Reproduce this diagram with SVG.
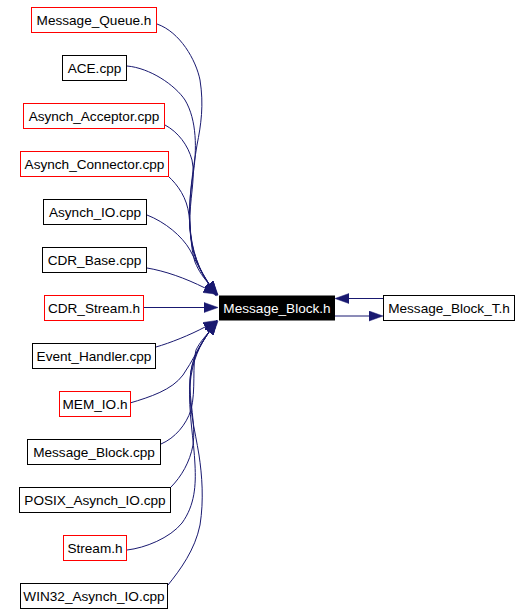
<svg xmlns="http://www.w3.org/2000/svg" width="531" height="614" viewBox="0 0 531 614">
<style>
.box{fill:#ffffff;stroke:#000000;stroke-width:1}
.red{stroke:#ff0000}
.main{fill:#000000;stroke:#000000}
text{font-family:"Liberation Sans",Arial,sans-serif;font-size:13.6px;text-anchor:middle;fill:#000000}
.wt{fill:#ffffff}
.edge{fill:none;stroke:#191970;stroke-width:1;marker-end:url(#arr)}
</style>
<defs>
<marker id="arr" markerUnits="userSpaceOnUse" markerWidth="15" markerHeight="11" refX="0" refY="5" orient="auto" viewBox="0 0 15 10">
<path d="M0,0 L14,5 L0,10 z" fill="#191970" stroke="#191970" stroke-width="0.5"/>
</marker>
</defs>
<rect width="531" height="614" fill="#ffffff"/>
<g id="edges">
<path class="edge" d="M157,24 C180,32 196,60 200,80 C204,105 201,125 197,145 C193,170 188,200 190,228 C191,250 200,272 209,284"/>
<path class="edge" d="M127,66 C150,68 175,85 185,100 C197,120 197,150 193,175 C189,200 188,225 192,245 C195,262 202,274 209,284"/>
<path class="edge" d="M165,125 C178,132 188,145 192,160 C196,178 189,200 190,225 C191,250 200,272 209,284"/>
<path class="edge" d="M168,176 C178,185 187,198 189,215 C191,235 191,250 195,262 C199,272 204,278 209,284"/>
<path class="edge" d="M147,215 C165,222 182,236 190,250 C196,262 203,274 209,284"/>
<path class="edge" d="M147,268 C165,271 185,278 205,288"/>
<path class="edge" d="M143,307.5 L204,307.5"/>
<path class="edge" d="M156,347 C170,343 190,335 205,327"/>
<path class="edge" d="M130,403 C150,397 172,390 183,375 C192,362 200,345 209,332"/>
<path class="edge" d="M161,444 C175,438 186,425 191,410 C196,390 192,365 196,350 C200,342 204,338 209,332"/>
<path class="edge" d="M171,487 C181,477 190,462 193,445 C196,425 189,400 190,380 C191,360 200,345 209,332"/>
<path class="edge" d="M127,550 C145,548 170,538 182,523 C195,505 196,485 195,465 C194,440 188,410 190,385 C192,360 200,345 209,332"/>
<path class="edge" d="M168,585 C180,570 195,550 200,525 C204,500 202,475 199,455 C195,430 188,405 190,380 C191,358 200,345 209,332"/>
<path class="edge" d="M383,298.5 L349,298.5"/>
<path class="edge" d="M335,316 L369,316"/>
</g>
<g id="n_message_queue_h"><rect class="box red" x="31.5" y="7.5" width="125" height="25"/><text x="94" y="24.5">Message_Queue.h</text></g>
<g id="n_ace_cpp"><rect class="box" x="62.5" y="55.5" width="64" height="25"/><text x="94.5" y="72.5">ACE.cpp</text></g>
<g id="n_asynch_acceptor_cpp"><rect class="box red" x="23.5" y="103.5" width="141" height="25"/><text x="94" y="120.5">Asynch_Acceptor.cpp</text></g>
<g id="n_asynch_connector_cpp"><rect class="box red" x="20.5" y="151.5" width="148" height="25"/><text x="94.5" y="168.5">Asynch_Connector.cpp</text></g>
<g id="n_asynch_io_cpp"><rect class="box" x="43.5" y="199.5" width="103" height="25"/><text x="95" y="216.5">Asynch_IO.cpp</text></g>
<g id="n_cdr_base_cpp"><rect class="box" x="42.5" y="247.5" width="104" height="25"/><text x="94.5" y="264.5">CDR_Base.cpp</text></g>
<g id="n_cdr_stream_h"><rect class="box red" x="44.5" y="295.5" width="99" height="25"/><text x="94" y="312.5">CDR_Stream.h</text></g>
<g id="n_event_handler_cpp"><rect class="box" x="32.5" y="343.5" width="123" height="25"/><text x="94" y="360.5">Event_Handler.cpp</text></g>
<g id="n_mem_io_h"><rect class="box red" x="59.5" y="391.5" width="71" height="25"/><text x="95" y="408.5">MEM_IO.h</text></g>
<g id="n_message_block_cpp"><rect class="box" x="27.5" y="439.5" width="133" height="25"/><text x="94" y="456.5">Message_Block.cpp</text></g>
<g id="n_posix_asynch_io_cpp"><rect class="box" x="19.5" y="487.5" width="151" height="25"/><text x="95" y="504.5">POSIX_Asynch_IO.cpp</text></g>
<g id="n_stream_h"><rect class="box red" x="63.5" y="535.5" width="63" height="25"/><text x="95" y="552.5">Stream.h</text></g>
<g id="n_win32_asynch_io_cpp"><rect class="box" x="20.5" y="583.5" width="147" height="25"/><text x="94" y="600.5">WIN32_Asynch_IO.cpp</text></g>
<g id="n_message_block_h"><rect class="box main" x="219.5" y="296" width="115" height="24"/><text class="wt" x="277" y="312.5">Message_Block.h</text></g>
<g id="n_message_block_t_h"><rect class="box" x="383.5" y="295.5" width="131" height="25"/><text x="449" y="312.5">Message_Block_T.h</text></g>
</svg>
